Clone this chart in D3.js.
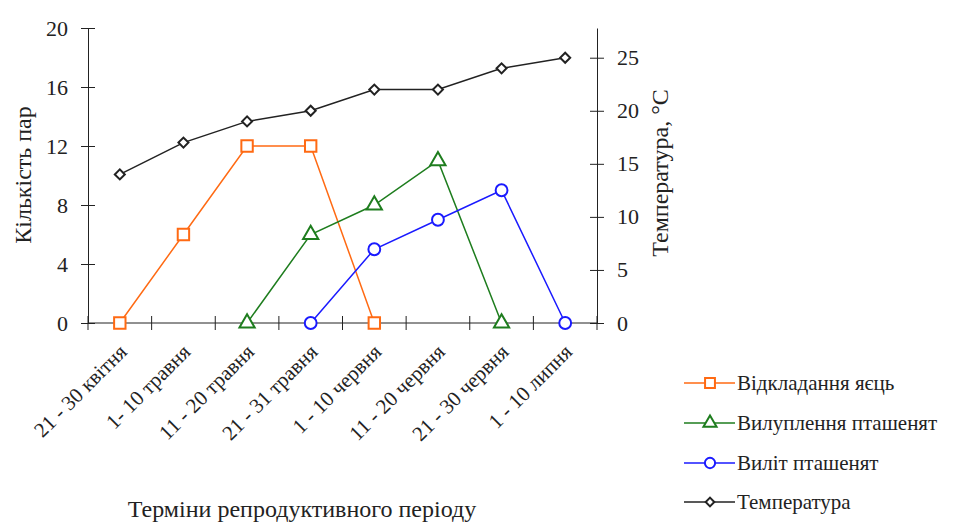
<!DOCTYPE html>
<html>
<head>
<meta charset="utf-8">
<script src="https://cdn.jsdelivr.net/npm/d3@7"></script>
<style>
  body { margin: 0; background: #fff; }
  svg text { font-family: "Liberation Serif", "Times New Roman", serif; fill: #222; }
</style>
</head>
<body>
<div id="chart"></div>
<script>
// data
var categories = ["21 - 30 квітня", "1- 10 травня", "11 - 20 травня", "21 - 31 травня",
                  "1 - 10 червня", "11 - 20 червня", "21 - 30 червня", "1 - 10 липня"];
var eggs     = [0, 6, 12, 12, 0, null, null, null];
var hatching = [null, null, 0, 6, 8, 11, 0, null];
var fledging = [null, null, null, 0, 5, 7, 9, 0];
var temperature = [14, 17, 19, 20, 22, 22, 24, 25];
var leftTicks = [0, 4, 8, 12, 16, 20];
var rightTicks = [0, 5, 10, 15, 20, 25];

var width = 965, height = 522;
var plotLeft = 88, plotRight = 597, plotTop = 28, plotBottom = 323;

var svg = d3.select("#chart").append("svg")
    .attr("width", width)
    .attr("height", height)
    .attr("font-family", "Liberation Serif, serif");

var x = d3.scaleBand().domain(categories).range([plotLeft, plotRight]);
var y = d3.scaleLinear().domain([0, 20]).range([plotBottom, plotTop]);
var y2 = d3.scaleLinear().domain([0, 27.8]).range([plotBottom, plotTop]);

// left axis
var yAxis = svg.append("g")
    .attr("transform", "translate(" + plotLeft + ",0)")
    .call(d3.axisLeft(y).tickValues(leftTicks).tickSize(7).tickSizeOuter(0));
yAxis.selectAll(".tick line").attr("x2", 7).attr("x1", -7);
yAxis.selectAll("text").attr("x", -20).style("font-size", "22px");

// right axis
var yAxis2 = svg.append("g")
    .attr("transform", "translate(" + plotRight + ",0)")
    .call(d3.axisRight(y2).tickValues(rightTicks).tickSize(7).tickSizeOuter(0));
yAxis2.selectAll(".tick line").attr("x1", -7).attr("x2", 7);
yAxis2.selectAll("text").attr("x", 20).style("font-size", "22px");

// x axis
var xAxis = svg.append("g")
    .attr("transform", "translate(0," + plotBottom + ")")
    .call(d3.axisBottom(x).tickSize(0).tickSizeOuter(0));
xAxis.select(".domain").attr("d", "M" + plotLeft + ",0H" + plotRight);
xAxis.selectAll("text")
    .style("font-size", "21px")
    .style("text-anchor", "end")
    .attr("dy", "0.35em")
    .attr("y", 0)
    .attr("transform", "translate(3,25) rotate(-45)");
// band boundary ticks
var bounds = categories.map(function (c) { return x(c); }).concat([plotRight]);
svg.append("g").selectAll("line")
    .data(bounds)
    .enter().append("line")
    .attr("x1", function (d) { return d; })
    .attr("x2", function (d) { return d; })
    .attr("y1", plotBottom - 7)
    .attr("y2", plotBottom + 7)
    .attr("stroke", "#222");

svg.selectAll(".domain, .tick line").attr("stroke", "#222");

// axis titles
svg.append("text")
    .attr("transform", "translate(31,175) rotate(-90)")
    .attr("text-anchor", "middle")
    .style("font-size", "24px")
    .text("Кількість пар");
svg.append("text")
    .attr("transform", "translate(668,173) rotate(-90)")
    .attr("text-anchor", "middle")
    .style("font-size", "24px")
    .text("Температура, °C");
svg.append("text")
    .attr("x", 302)
    .attr("y", 517)
    .attr("text-anchor", "middle")
    .style("font-size", "24px")
    .text("Терміни репродуктивного періоду");

var series = [
    { name: "Відкладання яєць", values: eggs, color: "#ff6a13", marker: d3.symbolSquare, size: 130, rot: 0, scale: y },
    { name: "Вилуплення пташенят", values: hatching, color: "#1e7d1e", marker: d3.symbolTriangle, size: 100, rot: 0, scale: y },
    { name: "Виліт пташенят", values: fledging, color: "#1a1aff", marker: d3.symbolCircle, size: 110, rot: 0, scale: y },
    { name: "Температура", values: temperature, color: "#222", marker: d3.symbolSquare, size: 50, rot: 45, scale: y2 }
];

series.forEach(function (s) {
    var pts = [];
    s.values.forEach(function (v, i) {
        if (v !== null) pts.push({ c: categories[i], v: v });
    });
    var line = d3.line()
        .x(function (d) { return x(d.c) + x.bandwidth() / 2; })
        .y(function (d) { return s.scale(d.v); });
    svg.append("path")
        .datum(pts)
        .attr("d", line)
        .attr("fill", "none")
        .attr("stroke", s.color)
        .attr("stroke-width", 1.5);
    svg.append("g").selectAll("path")
        .data(pts)
        .enter().append("path")
        .attr("d", d3.symbol().type(s.marker).size(s.size))
        .attr("transform", function (d) {
            return "translate(" + (x(d.c) + x.bandwidth() / 2) + "," + s.scale(d.v) + ") rotate(" + s.rot + ")";
        })
        .attr("fill", "#fff")
        .attr("stroke", s.color)
        .attr("stroke-width", 2);
});

// legend
var legend = svg.append("g");
var rowY = [383, 423, 463, 502];
series.forEach(function (s, i) {
    var g = legend.append("g").attr("transform", "translate(684," + rowY[i] + ")");
    g.append("line")
        .attr("x1", 0).attr("x2", 51)
        .attr("stroke", s.color).attr("stroke-width", 1.5);
    g.append("path")
        .attr("d", d3.symbol().type(s.marker).size(s.size * 0.75))
        .attr("transform", "translate(26,0) rotate(" + s.rot + ")")
        .attr("fill", "#fff")
        .attr("stroke", s.color)
        .attr("stroke-width", 2);
    g.append("text")
        .attr("x", 53)
        .attr("dy", "0.35em")
        .style("font-size", "21px")
        .text(s.name);
});
</script>
</body>
</html>
